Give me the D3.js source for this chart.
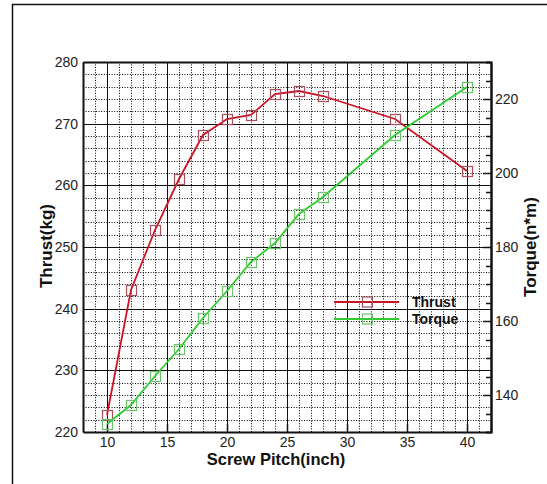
<!DOCTYPE html>
<html>
<head>
<meta charset="utf-8">
<script src="https://cdn.jsdelivr.net/npm/d3@7"></script>
<style>
    body { margin: 0; background: #fff; }
    svg text { font-family: "Liberation Sans", Arial, sans-serif; }
</style>
</head>
<body>
<div id="chart"></div>
<script>
// screw pitch (inch)
const pitch = [10, 12, 14, 16, 18, 20, 22, 24, 26, 28, 34, 40];
// thrust (kg), left axis
const thrust = [222.7, 243.0, 252.8, 261.1, 268.2, 270.7, 271.4, 274.8, 275.3, 274.5, 270.8, 262.3];
// torque (n*m), right axis
const torque = [132.2, 137.2, 145.1, 152.5, 160.8, 168.0, 175.9, 181.2, 188.8, 193.5, 210.4, 223.2];

const xTicks = [10, 15, 20, 25, 30, 35, 40];
const thrustTicks = [220, 230, 240, 250, 260, 270, 280];
const torqueTicks = [140, 160, 180, 200, 220];

const width = 547;
const height = 484;
const plot = { left: 83, right: 491, top: 62, bottom: 432 };

const svg = d3.select("#chart").append("svg")
    .attr("width", width)
    .attr("height", height);

svg.append("rect")
    .attr("width", width)
    .attr("height", height)
    .attr("fill", "#fff");

// partial frame round the figure (top and left edges)
svg.append("path")
    .attr("d", `M12.5,${height} V4.5 H${width}`)
    .attr("fill", "none")
    .attr("stroke", "#111")
    .attr("stroke-width", 1.5);

// rounded ranges keep the grid on whole pixels
const x = d3.scaleLinear().domain([8, 42]).rangeRound([plot.left, plot.right]);
const yThrust = d3.scaleLinear().domain([220, 280]).rangeRound([plot.bottom, plot.top]);
const yTorque = d3.scaleLinear().domain([130, 230]).rangeRound([plot.bottom, plot.top]);

const plotW = plot.right - plot.left;
const plotH = plot.bottom - plot.top;

// grid: minor dotted, major solid
const minorX = d3.range(8, 43, 1).filter(v => v % 5 !== 0);
const minorY = d3.range(220, 281, 2).filter(v => v % 10 !== 0);

function styleGrid(g, dotted) {
    g.select(".domain").remove();
    g.selectAll("text").remove();
    g.selectAll("line")
        .attr("stroke", dotted ? "#000" : "#111")
        .attr("stroke-width", 1)
        .attr("stroke-dasharray", dotted ? "1,1.6" : null);
}

svg.append("g")
    .attr("transform", `translate(0,${plot.bottom})`)
    .call(d3.axisBottom(x).tickValues(minorX).tickSize(-plotH))
    .call(g => styleGrid(g, true));

svg.append("g")
    .attr("transform", `translate(${plot.left},0)`)
    .call(d3.axisLeft(yThrust).tickValues(minorY).tickSize(-plotW))
    .call(g => styleGrid(g, true));

svg.append("g")
    .attr("transform", `translate(0,${plot.bottom})`)
    .call(d3.axisBottom(x).tickValues(xTicks).tickSize(-plotH))
    .call(g => styleGrid(g, false));

svg.append("g")
    .attr("transform", `translate(${plot.left},0)`)
    .call(d3.axisLeft(yThrust).tickValues(thrustTicks.slice(1, -1)).tickSize(-plotW))
    .call(g => styleGrid(g, false));

// axes with labels
function styleAxis(g) {
    g.select(".domain").attr("stroke", "#111").attr("stroke-width", 2);
    g.selectAll("line").attr("stroke", "#111").attr("stroke-width", 1.5);
    g.selectAll("text")
        .attr("fill", "#222")
        .style("font-size", "14px");
}

svg.append("g")
    .attr("transform", `translate(0,${plot.bottom})`)
    .call(d3.axisBottom(x).tickValues(xTicks).tickSize(-8).tickSizeOuter(0).tickPadding(5))
    .call(styleAxis);

svg.append("g")
    .attr("transform", `translate(0,${plot.top})`)
    .call(d3.axisTop(x).tickValues([]).tickSizeOuter(0))
    .call(styleAxis);

svg.append("g")
    .attr("transform", `translate(${plot.left},0)`)
    .call(d3.axisLeft(yThrust).tickValues(thrustTicks).tickSize(0).tickPadding(5))
    .call(styleAxis);

svg.append("g")
    .attr("transform", `translate(${plot.right},0)`)
    .call(d3.axisRight(yTorque).tickValues(d3.range(135, 230, 5).filter(v => v % 20 !== 0)).tickSize(-5).tickFormat(""))
    .call(styleAxis);

svg.append("g")
    .attr("transform", `translate(${plot.right},0)`)
    .call(d3.axisRight(yTorque).tickValues(torqueTicks).tickSize(-8).tickSizeOuter(0).tickPadding(4))
    .call(styleAxis);

// axis titles
svg.append("text")
    .attr("x", 276)
    .attr("y", 465)
    .attr("text-anchor", "middle")
    .style("font-size", "16.5px")
    .style("font-weight", "bold")
    .attr("fill", "#111")
    .text("Screw Pitch(inch)");

svg.append("text")
    .attr("transform", "translate(52,246) rotate(-90)")
    .attr("text-anchor", "middle")
    .style("font-size", "17px")
    .style("font-weight", "bold")
    .attr("fill", "#111")
    .text("Thrust(kg)");

svg.append("text")
    .attr("transform", "translate(536,247) rotate(-90)")
    .attr("text-anchor", "middle")
    .style("font-size", "17px")
    .style("font-weight", "bold")
    .attr("fill", "#111")
    .text("Torque(n*m)");

// series
const series = [
    { name: "Thrust", values: thrust, y: yThrust, line: "#cc1426", marker: "#a8505c" },
    { name: "Torque", values: torque, y: yTorque, line: "#2ecc2e", marker: "#6cc46c" }
];

const markerSize = 10;

series.forEach(s => {
    const pts = pitch.map((p, i) => [x(p), s.y(s.values[i])]);

    svg.append("path")
        .datum(pts)
        .attr("fill", "none")
        .attr("stroke", s.line)
        .attr("stroke-width", 1.8)
        .attr("d", d3.line());

    svg.append("g").selectAll("rect")
        .data(pts)
        .join("rect")
        .attr("x", d => d[0] - markerSize / 2 + 0.5)
        .attr("y", d => d[1] - markerSize / 2 + 0.5)
        .attr("width", markerSize)
        .attr("height", markerSize)
        .attr("fill", "none")
        .attr("stroke", s.marker)
        .attr("stroke-width", 1.2);
});

// legend
const legend = svg.append("g")
    .attr("transform", "translate(334,302)");

series.forEach((s, i) => {
    const row = legend.append("g").attr("transform", `translate(0,${i * 17})`);
    row.append("line")
        .attr("x1", 0)
        .attr("x2", 65)
        .attr("stroke", s.line)
        .attr("stroke-width", 1.8);
    row.append("rect")
        .attr("x", 33.5 - markerSize / 2)
        .attr("y", -markerSize / 2)
        .attr("width", markerSize)
        .attr("height", markerSize)
        .attr("fill", "none")
        .attr("stroke", s.marker)
        .attr("stroke-width", 1.2);
    row.append("text")
        .attr("x", 78)
        .attr("y", 5)
        .style("font-size", "14px")
        .style("font-weight", "bold")
        .attr("fill", "#111")
        .text(s.name);
});
</script>
</body>
</html>
